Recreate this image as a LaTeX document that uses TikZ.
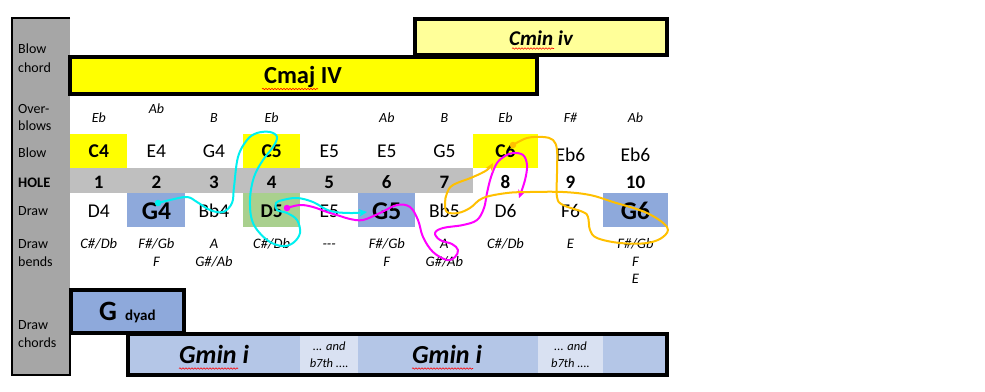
\documentclass[tikz,border=0pt]{standalone}
\usepackage{fontspec}
\setmainfont{Carlito}
\usetikzlibrary{arrows.meta,decorations.pathmorphing}
\definecolor{colgrey}{HTML}{A6A6A6}
\definecolor{holegrey}{HTML}{BFBFBF}
\definecolor{yel}{HTML}{FFFF00}
\definecolor{paleyel}{HTML}{FFFF99}
\definecolor{blu}{HTML}{8EA9DB}
\definecolor{ltblu}{HTML}{B4C6E7}
\definecolor{ltrblu}{HTML}{D9E1F2}
\definecolor{grn}{HTML}{A9D08E}
\definecolor{cyanline}{HTML}{00F0F0}
\definecolor{magline}{HTML}{FF00FF}
\definecolor{orline}{HTML}{FFC000}
\tikzset{
  lbl/.style={font=\fontsize{14}{17}\selectfont, anchor=base west, inner sep=0},
  lblb/.style={font=\fontsize{14.5}{17}\selectfont\bfseries, anchor=base west, inner sep=0},
  ob/.style={font=\fontsize{14}{16}\selectfont\itshape, anchor=base, inner sep=0},
  notetxt/.style={font=\fontsize{19.5}{22}\selectfont, anchor=base, inner sep=0},
  bnotetxt/.style={font=\fontsize{19.5}{22}\selectfont\bfseries, anchor=base, inner sep=0},
  bignotetxt/.style={font=\fontsize{25.5}{28}\selectfont\bfseries, anchor=base, inner sep=0},
  holenum/.style={font=\fontsize{19}{22}\selectfont\bfseries, anchor=base, inner sep=0},
  bendtxt/.style={font=\fontsize{14.5}{17}\selectfont\itshape, anchor=base, inner sep=0},
  andtxt/.style={font=\fontsize{12.5}{15}\selectfont\itshape, anchor=base, inner sep=0},
  chordbox/.style={draw=black, line width=3.5pt},
  squig/.style={red, line width=0.6pt, decorate, decoration={snake, amplitude=0.7pt, segment length=3pt}},
  curveline/.style={line width=2pt, line cap=round, line join=round},
  startdot/.style={circle, inner sep=0, minimum size=6.5pt},
}
\begin{document}
\begin{tikzpicture}[x=1pt,y=-1pt]
\useasboundingbox (0,0) rectangle (985,391);
\fill[white] (0,0) rectangle (985,391);
% left column
\fill[colgrey] (11,17) rectangle (70,376);
\draw[line width=2.2pt] (70,18) -- (12,18) -- (12,375) -- (70,375);
\draw[line width=2.2pt] (70,288) -- (70,376);
% labels
\node[lbl] (lbc1) at (18,53) {Blow};
\node[lbl] (lbc2) at (18,72) {chord};
\node[lbl] (lob1) at (18,113) {Over-};
\node[lbl] (lob2) at (18,130) {blows};
\node[lbl] (lbl) at (18,157) {Blow};
\node[lblb] (lhole) at (18,187) {HOLE};
\node[lbl] (ldr) at (18,215) {Draw};
\node[lbl] (ldb1) at (18,248) {Draw};
\node[lbl] (ldb2) at (18,266) {bends};
\node[lbl] (ldc1) at (18,329) {Draw};
\node[lbl] (ldc2) at (18,347) {chords};
% blow chords
\draw[chordbox, fill=paleyel] (415,19) rectangle (667,55);
\node[font=\fontsize{21}{24}\selectfont\bfseries\itshape, anchor=base, inner sep=0] (cmin) at (541,45) {Cmin iv};
\draw[squig] (512,48.5) -- (554,48.5);
\draw[chordbox, fill=yel] (70,57) rectangle (537,94);
\node[font=\fontsize{24.5}{27}\selectfont\bfseries, anchor=base, inner sep=0] (cmaj) at (303,83) {Cmaj IV};
\draw[squig] (262,89) -- (318,89);
% cell fills
\fill[yel] (70,134) rectangle (127,168);
\fill[yel] (243,134) rectangle (300,168);
\fill[yel] (473,134) rectangle (538,168);
\fill[holegrey] (70,168) rectangle (473,193);
\fill[blu] (127,193) rectangle (185,227);
\fill[grn] (243,193) rectangle (300,227);
\fill[blu] (358,193) rectangle (415,227);
\fill[blu] (603,193) rectangle (668,227);
% overblows
\foreach \i/\x/\t/\y in {1/98.8/Eb/122, 2/156.4/Ab/113, 3/214/B/122, 4/271.6/Eb/122, 6/386.8/Ab/122, 7/444.4/B/122, 8/505.5/Eb/122, 9/570.5/F\#/122, 10/635.5/Ab/122}
  \node[ob] (ob\i) at (\x,\y) {\t};
% blow
\foreach \i/\x/\t/\s/\y in {1/98.8/C4/bnotetxt/157, 2/156.4/E4/notetxt/157, 3/214/G4/notetxt/157, 4/271.6/C5/bnotetxt/157, 5/329.2/E5/notetxt/157, 6/386.8/E5/notetxt/157, 7/444.4/G5/notetxt/157, 8/505.5/C6/bnotetxt/157, 9/570.5/Eb6/notetxt/161, 10/635.5/Eb6/notetxt/161}
  \node[\s] (bl\i) at (\x,\y) {\t};
% holes
\foreach \i/\x in {1/98.8, 2/156.4, 3/214, 4/271.6, 5/329.2, 6/386.8, 7/444.4, 8/505.5, 9/570.5, 10/635.5}
  \node[holenum] (h\i) at (\x,188) {\i};
% draw
\foreach \i/\x/\t/\s/\y in {1/98.8/D4/notetxt/217, 2/156.4/G4/bignotetxt/219, 3/214/Bb4/notetxt/217, 4/271.6/D5/bnotetxt/217, 5/329.2/E5/notetxt/217, 6/386.8/G5/bignotetxt/219, 7/444.4/Bb5/notetxt/217, 8/505.5/D6/notetxt/217, 9/570.5/F6/notetxt/217, 10/635.5/G6/bignotetxt/219}
  \node[\s] (dr\i) at (\x,\y) {\t};
% bends
\foreach \i/\x/\t in {1/98.8/{C\#/Db}, 2/156.4/{F\#/Gb}, 3/214/A, 4/271.6/{C\#/Db}, 5/329.2/{-{}-{}-}, 6/386.8/{F\#/Gb}, 7/444.4/A, 8/505.5/{C\#/Db}, 9/570.5/E, 10/635.5/{F\#/Gb}}
  \node[bendtxt] (ba\i) at (\x,248) {\t};
\node[bendtxt] (bb2) at (156.4,266) {F};
\node[bendtxt] (bb3) at (214,266) {G\#/Ab};
\node[bendtxt] (bb6) at (386.8,266) {F};
\node[bendtxt] (bb7) at (444.4,266) {G\#/Ab};
\node[bendtxt] (bb10) at (635.5,266) {F};
\node[bendtxt] (bc10) at (635.5,283) {E};
% draw chords
\fill[ltblu] (128,334) rectangle (667,375);
\fill[ltrblu] (300,334) rectangle (358,375);
\fill[ltrblu] (538,334) rectangle (603,375);
\draw[chordbox, fill=blu] (71,290) rectangle (184,333);
\node[font=\fontsize{28}{30}\selectfont\bfseries, anchor=base, inner sep=0] (gd) at (108,320) {G};
\node[font=\fontsize{15}{17}\selectfont\bfseries, anchor=base west, inner sep=0] (dyad) at (125,320) {dyad};
\draw[chordbox] (128,334) rectangle (667,375);
\node[font=\fontsize{26}{28}\selectfont\bfseries\itshape, anchor=base, inner sep=0] (gmin1) at (214,363) {Gmin i};
\node[font=\fontsize{26}{28}\selectfont\bfseries\itshape, anchor=base, inner sep=0] (gmin2) at (447,363) {Gmin i};
\draw[squig] (179,368.5) -- (238,368.5);
\draw[squig] (412,368.5) -- (473,368.5);
\node[andtxt] (and1) at (329.2,350) {... and};
\node[andtxt] (b7a) at (329.2,367) {b7th ....};
\node[andtxt] (and2) at (570.5,350) {... and};
\node[andtxt] (b7b) at (570.5,367) {b7th ....};
% curves
\node[startdot, fill=cyanline] (cdot) at (158,203) {};
\draw[curveline, cyanline, -{Stealth[length=8pt,width=7.5pt]}] plot[smooth, tension=0.6] coordinates {(158,203) (170,200) (187,197) (197,202) (210,210) (223,212) (232,203) (234,187) (238,157) (247,140) (257,133) (270,132) (277,137) (273,147) (263,160) (254,177) (250,200) (253,223) (267,240) (282,246) (293,243) (300,233) (297,220) (287,213) (277,210) (276,203) (283,200) (297,198) (313,202) (330,211) (350,213) (367,212)};
\node[startdot, fill=magline] (mdot) at (287,208) {};
\draw[curveline, magline, -{Stealth[length=8pt,width=7.5pt]}] plot[smooth, tension=0.6] coordinates {(287,208) (300,205) (313,207) (327,212) (340,216) (350,219) (363,220) (380,213) (397,205) (410,207) (418,220) (423,237) (433,252) (447,260) (455,257) (458,250) (452,244) (440,240) (435,233) (443,228) (463,225) (477,220) (484,208) (487,193) (491,177) (497,163) (505,156) (513,153) (523,155) (527,165) (525,180) (519,198)};
\node[startdot, fill=orline] (odot) at (513,145) {};
\draw[curveline, orline, -{Stealth[length=8pt,width=7.5pt]}] plot[smooth, tension=0.6] coordinates {(513,145) (527,138) (543,137) (553,140) (557,150) (557,173) (557,197) (563,205) (583,212) (588,217) (590,230) (597,238) (620,243) (647,243) (663,237) (667,227) (647,213) (613,202) (590,195) (563,192) (530,192) (507,193) (483,198) (470,208) (458,213) (447,212) (445,203) (447,193) (453,185) (473,177) (487,170) (493,163)};
\end{tikzpicture}
\end{document}
